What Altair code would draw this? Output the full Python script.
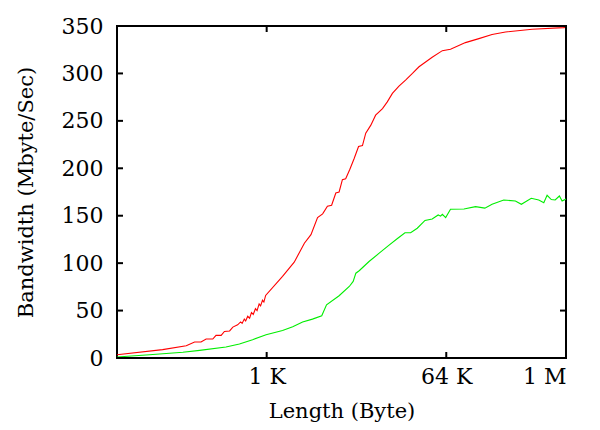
import altair as alt
import pandas as pd

# Red series (lengths in bytes, bandwidth in Mbyte/Sec)
red_len = [32, 92, 159, 193, 224, 252, 294, 317, 357, 385, 434, 468, 523,
           560, 580, 610, 630, 660, 690, 720, 750, 790, 820, 860, 890, 930, 960, 1000,
           1479, 1938, 2452, 2856, 3327, 3743, 4181, 4608, 5078, 5480, 5914, 6380,
           7032, 7749, 8598, 9410, 10155, 11428, 12765, 14970, 16726, 18820, 21920,
           25530, 29940, 34860, 40610, 47300, 59870, 72300, 102200, 139400, 189200,
           258500, 479300, 992000, 1048576]
red_bw = [3.5, 8.8, 13, 16.8, 16.8, 20, 20, 23.9, 23.9, 28, 28.5, 32.6, 35,
          38, 36.5, 41, 39, 44, 42, 48, 46, 52, 50, 57, 55, 61, 59, 66,
          86, 101, 121, 130, 148, 152, 160, 161, 174, 175, 188, 189,
          199, 210, 223, 224, 237, 245.5, 256, 263, 270, 279, 286.6,
          293, 300, 307, 312, 317, 324, 325.5, 332.5, 336.7, 341,
          343.7, 346.5, 348.3, 348.5]

# Green series
green_len = [32, 68, 147, 217, 399, 545, 739, 1010, 1479, 1872, 2353, 2957, 3666,
             4096, 5480, 6936, 7590, 8080, 8720, 9810, 10960, 13870, 17430, 21170,
             25180, 28720, 33470, 40050, 47300, 54330, 57430, 59870, 64640, 72300,
             98740, 129000, 160200, 189200, 248000, 325000, 373000, 469000, 558000,
             627000, 677000, 746000, 816000, 900000, 958000, 1048576]
green_bw = [1, 3.5, 6, 8, 11.6, 14.7, 19.3, 24.6, 29, 33, 38, 41, 44.5,
            56, 65.6, 75.4, 80.7, 89.4, 92, 97, 101.7, 110.5, 119, 126,
            132, 132, 136.8, 145, 146.6, 150.8, 149.5, 151.5, 148, 156.8,
            157, 159.6, 158, 162, 166.6, 165.5, 162, 168.4, 166.6,
            163.8, 171.5, 167, 166.6, 170.8, 165.5, 167.6]

y_ticks = [0, 50, 100, 150, 200, 250, 300, 350]
x_ticks = [1024, 65536, 1048576]
x_labels = ["1 K", "64 K", "1 M"]

W, H = 449, 332
FONT = "DejaVu Serif"

df = pd.concat([
    pd.DataFrame({"len": red_len, "bw": red_bw, "s": "red", "o": range(len(red_len))}),
    pd.DataFrame({"len": green_len, "bw": green_bw, "s": "green", "o": range(len(green_len))}),
])

xscale = alt.Scale(type="log", base=2, domain=[32, 1048576], nice=False)
yscale = alt.Scale(domain=[0, 350], nice=False, zero=False)

label_map = "{" + ",".join(f"'{v}':'{l}'" for v, l in zip(x_ticks, x_labels)) + "}"

ax_style = dict(labelFont=FONT, labelFontSize=22, labelColor="black",
                titleFont=FONT, titleFontSize=21, titleFontWeight="normal",
                titleColor="black", grid=False, ticks=False, domain=False)

xaxis = alt.Axis(values=x_ticks, labelExpr=f"{label_map}[datum.value]",
                 title="Length (Byte)", labelPadding=8, titlePadding=13, **ax_style)
yaxis = alt.Axis(values=y_ticks, title="Bandwidth (Mbyte/Sec)",
                 labelPadding=14, titlePadding=25, **ax_style)

lines = alt.Chart(df).mark_line(strokeWidth=1.1, clip=True).encode(
    x=alt.X("len:Q", scale=xscale, axis=xaxis),
    y=alt.Y("bw:Q", scale=yscale, axis=yaxis),
    color=alt.Color("s:N", scale=alt.Scale(domain=["red", "green"],
                                           range=["#ff0000", "#00ee00"]), legend=None),
    order="o:Q",
)

ydf = pd.DataFrame({"v": y_ticks})
xdf = pd.DataFrame({"v": x_ticks})
TL = 6
yt_left = alt.Chart(ydf).mark_rule(color="black", strokeWidth=2).encode(
    y=alt.Y("v:Q", scale=yscale, axis=yaxis), x=alt.value(0), x2=alt.value(TL))
yt_right = alt.Chart(ydf).mark_rule(color="black", strokeWidth=2).encode(
    y=alt.Y("v:Q", scale=yscale, axis=yaxis), x=alt.value(W - TL), x2=alt.value(W))
xt_bot = alt.Chart(xdf).mark_rule(color="black", strokeWidth=2).encode(
    x=alt.X("v:Q", scale=xscale, axis=xaxis), y=alt.value(H - TL), y2=alt.value(H))
xt_top = alt.Chart(xdf).mark_rule(color="black", strokeWidth=2).encode(
    x=alt.X("v:Q", scale=xscale, axis=xaxis), y=alt.value(0), y2=alt.value(TL))

chart = alt.layer(lines, yt_left, yt_right, xt_bot, xt_top).properties(
    width=W, height=H,
    autosize=alt.AutoSizeParams(type="none"),
    padding={"left": 109, "top": 18, "right": 26, "bottom": 64},
).configure_view(
    stroke="black", strokeWidth=2
)

chart.save("out.html", embed_options={"renderer": "svg", "actions": False})
